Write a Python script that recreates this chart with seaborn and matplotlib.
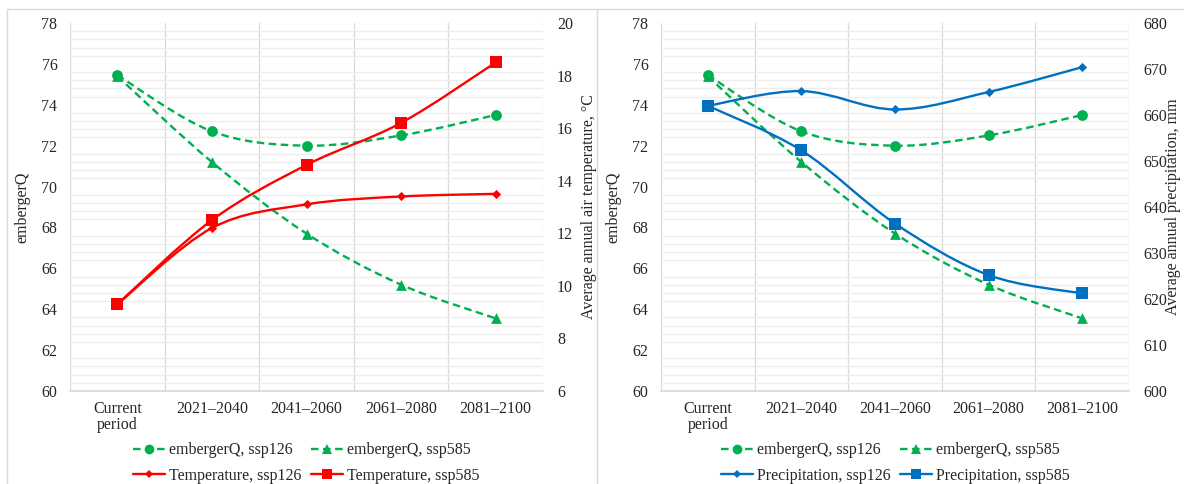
import numpy as np
import matplotlib
matplotlib.use("Agg")
import matplotlib.pyplot as plt
from matplotlib.path import Path
from matplotlib.patches import PathPatch
from matplotlib.lines import Line2D
import seaborn as sns

# ---- data ----
periods = ["Current\nperiod", "2021\u20132040", "2041\u20132060", "2061\u20132080", "2081\u20132100"]
emberger_ssp126 = [75.45, 72.7, 72.0, 72.5, 73.5]
emberger_ssp585 = [75.4, 71.2, 67.7, 65.2, 63.55]
temp_ssp126 = [9.3, 12.2, 13.1, 13.4, 13.5]
temp_ssp585 = [9.3, 12.5, 14.6, 16.2, 18.5]
precip_ssp126 = [662.0, 665.2, 661.2, 665.0, 670.4]
precip_ssp585 = [662.0, 652.3, 636.4, 625.2, 621.2]

GREEN, RED, BLUE = "#00B050", "#FF0000", "#0070C0"
GRID_MINOR, GRID_MAJOR = "#EDEDED", "#D9D9D9"
FS = 11.5

sns.set_theme(style="white")
plt.rcParams["font.family"] = ["Liberation Serif", "DejaVu Serif"]


def smooth_path(x, y):
    """Excel-like smoothed line: cubic Bezier through the points."""
    p = np.column_stack([x, y]).astype(float)
    verts, codes = [p[0]], [Path.MOVETO]
    n = len(p)
    for i in range(n - 1):
        prev = p[i - 1] if i > 0 else p[i]
        nxt = p[i + 2] if i + 2 < n else p[i + 1]
        c1 = p[i] + (p[i + 1] - prev) / 6.0
        c2 = p[i + 1] - (nxt - p[i]) / 6.0
        verts += [c1, c2, p[i + 1]]
        codes += [Path.CURVE4] * 3
    return Path(verts, codes)


def draw_series(ax, values, color, marker, msize, dashed=False):
    x = np.arange(len(values))
    ls = (0, (3.2, 1.9)) if dashed else "-"
    patch = PathPatch(smooth_path(x, values), facecolor="none", edgecolor=color,
                      lw=1.7, linestyle=ls, capstyle="butt", zorder=3)
    ax.add_patch(patch)
    sns.scatterplot(x=x, y=values, ax=ax, color=color, marker=marker, s=msize,
                    linewidth=0, zorder=4, legend=False)


def style_axes(ax, ax2, ylim2, step2):
    ax.set_xlim(-0.5, len(periods) - 0.5)
    ax.set_ylim(60, 78)
    ax.set_yticks(np.arange(60, 78.1, 2))
    ax.set_yticks(np.arange(60, 78.1, 0.4), minor=True)
    ax.set_xticks(np.arange(len(periods)))
    ax.set_xticklabels(periods, fontsize=FS, linespacing=1.05)
    ax.set_xticks(np.arange(-0.5, len(periods)), minor=True)
    ax.grid(False)
    ax.grid(which="minor", axis="y", color=GRID_MINOR, lw=0.9, zorder=0)
    ax.grid(which="minor", axis="x", color=GRID_MAJOR, lw=0.9, zorder=0)
    ax.tick_params(axis="both", which="both", length=0, labelsize=FS)
    ax.tick_params(axis="y", pad=9)
    ax.tick_params(axis="x", pad=7)
    for s in ["top", "right", "left"]:
        ax.spines[s].set_visible(False)
    ax.spines["bottom"].set_color(GRID_MAJOR)
    ax.set_ylabel("embergerQ", fontsize=FS)
    ax.yaxis.set_label_coords(-0.083, 0.5)

    ax2.set_ylim(*ylim2)
    ax2.set_yticks(np.arange(ylim2[0], ylim2[1] + 0.1, step2))
    ax2.tick_params(axis="y", length=0, labelsize=FS, pad=10)
    for s in ax2.spines.values():
        s.set_visible(False)
    ax2.grid(False)
    ax.set_zorder(1)
    ax2.set_zorder(2)
    ax2.patch.set_visible(False)


fig = plt.figure(figsize=(11.84, 4.84), dpi=100)
W, H = 1184, 484
axL = fig.add_axes([70 / W, 1 - 391 / H, 473 / W, 368 / H])
axR = fig.add_axes([661 / W, 1 - 391 / H, 468 / W, 368 / H])
axL2 = axL.twinx()
axR2 = axR.twinx()

# left panel: embergerQ + temperature
draw_series(axL, emberger_ssp126, GREEN, "o", 60, dashed=True)
draw_series(axL, emberger_ssp585, GREEN, "^", 60, dashed=True)
draw_series(axL2, temp_ssp126, RED, "D", 22)
draw_series(axL2, temp_ssp585, RED, "s", 64)
style_axes(axL, axL2, (6, 20), 2)
axL2.set_ylabel("Average annual air temperature, \u00b0C", fontsize=FS)
axL2.yaxis.set_label_coords(1.08, 0.5)

# right panel: embergerQ + precipitation
draw_series(axR, emberger_ssp126, GREEN, "o", 60, dashed=True)
draw_series(axR, emberger_ssp585, GREEN, "^", 60, dashed=True)
draw_series(axR2, precip_ssp126, BLUE, "D", 22)
draw_series(axR2, precip_ssp585, BLUE, "s", 64)
style_axes(axR, axR2, (600, 680), 10)
axR.yaxis.set_label_coords(-0.085, 0.5)
axR2.set_ylabel("Average annual precipitation, mm", fontsize=FS)
axR2.yaxis.set_label_coords(1.077, 0.5)


def handle(color, marker, ms, dashed=False):
    return Line2D([], [], color=color, lw=1.7, marker=marker, markersize=ms,
                  markeredgewidth=0, linestyle=(0, (3.2, 1.9)) if dashed else "-")


for ax, name, col in [(axL, "Temperature", RED), (axR, "Precipitation", BLUE)]:
    handles = [handle(GREEN, "o", 7, True), handle(col, "D", 4.5),
               handle(GREEN, "^", 7, True), handle(col, "s", 7.5)]
    labels = ["embergerQ, ssp126", f"{name}, ssp126",
              "embergerQ, ssp585", f"{name}, ssp585"]
    bb = ax.get_position()
    fig.legend(handles, labels, ncol=2, loc="center",
               bbox_to_anchor=((bb.x0 + bb.x1) / 2, 1 - 463 / H),
               frameon=False, fontsize=FS, handlelength=2.0, handletextpad=0.25,
               columnspacing=0.6, labelspacing=0.6, borderpad=0)

# panel frames
fc = "#D9D9D9"
fig.add_artist(Line2D([7 / W, 1], [1 - 9 / H] * 2, color=fc, lw=1.0, transform=fig.transFigure))
fig.add_artist(Line2D([7 / W] * 2, [0, 1 - 9 / H], color=fc, lw=1.0, transform=fig.transFigure))
fig.add_artist(Line2D([597 / W] * 2, [0, 1 - 9 / H], color=fc, lw=1.0, transform=fig.transFigure))

fig.savefig("out.png", dpi=100, facecolor="white")
